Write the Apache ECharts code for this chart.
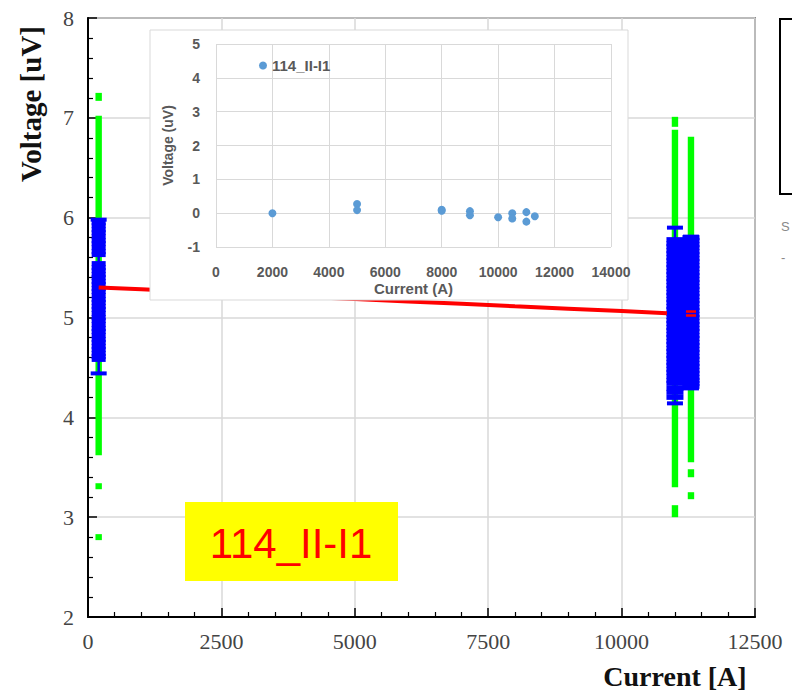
<!DOCTYPE html>
<html>
<head>
<meta charset="utf-8">
<script src="https://cdn.jsdelivr.net/npm/echarts@6/dist/echarts.min.js"></script>
<style>html,body{margin:0;padding:0;background:#fff;}#chart{width:792px;height:692px;}</style>
</head>
<body>
<div id="chart"></div>
<script>
// ---- main chart data ----
const xTicks = [0, 2500, 5000, 7500, 10000, 12500];
const yTicks = [2, 3, 4, 5, 6, 7, 8];

// green measurement ranges: [current, top voltage, bottom voltage]
const greenRanges = [
  [200, 7.25, 7.17], [200, 7.02, 3.62], [200, 3.34, 3.28], [200, 2.83, 2.77],
  [11000, 7.01, 6.91], [11000, 6.88, 3.30], [11000, 3.12, 3.00],
  [11300, 6.81, 3.55], [11300, 3.48, 3.40], [11300, 3.25, 3.18]
];

// blue points (averaged voltages) per current
const blueLeftI = 200;
const blueLeftV = [5.95,5.92,5.88,5.85,5.81,5.77,5.74,5.70,5.66,5.63,5.54,5.50,5.47,5.43,5.40,5.36,5.33,5.29,5.26,5.22,5.18,5.15,5.11,5.08,5.04,5.00,4.97,4.93,4.89,4.86,4.82,4.78,4.75,4.71,4.68,4.64,4.61,4.58];
const blueMidI = 11000;
const blueMidV = [5.78,5.74,5.71,5.67,5.64,5.60,5.57,5.53,5.50,5.46,5.43,5.39,5.36,5.32,5.29,5.25,5.22,5.18,5.15,5.11,5.08,5.04,5.01,4.97,4.94,4.90,4.87,4.83,4.80,4.76,4.73,4.69,4.66,4.62,4.59,4.55,4.52,4.48,4.45,4.41,4.37,4.34,4.29,4.25,4.20];
const blueHighI = 11300;
const blueHighV = [5.80,5.77,5.73,5.70,5.66,5.63,5.59,5.56,5.52,5.49,5.45,5.42,5.38,5.35,5.31,5.28,5.24,5.21,5.17,5.14,5.10,5.07,5.03,5.00,4.96,4.93,4.89,4.86,4.82,4.79,4.75,4.72,4.68,4.65,4.61,4.58,4.54,4.51,4.47,4.44,4.40,4.37,4.34,4.31];

// error bars: [current, low, high]
const errorBars = [[200, 4.44, 5.98], [11000, 4.14, 5.90], [11300, 4.29, 5.81]];

// red linear fit
const redI = [200, 1000, 2000, 3000, 4000, 5000, 6000, 7000, 8000, 9000, 10000, 10850];
const redV = [5.300, 5.282, 5.258, 5.233, 5.209, 5.185, 5.161, 5.137, 5.112, 5.088, 5.064, 5.043];
const redMarks = [[11300, 5.06], [11300, 5.02]];

// ---- inset data ----
const insetI = [2000, 5000, 5000, 8000, 8000, 9000, 9000, 10000, 10500, 10500, 11000, 11000, 11300];
const insetV = [0.00, 0.27, 0.09, 0.10, 0.07, 0.06, -0.06, -0.12, 0.00, -0.16, 0.03, -0.25, -0.09];
const insetXTicks = [0, 2000, 4000, 6000, 8000, 10000, 12000, 14000];
const insetYTicks = [-1, 0, 1, 2, 3, 4, 5];
const insetName = '114_II-I1';
const boxLabel = '114_II-I1';

const serif = '"Liberation Serif", "DejaVu Serif", serif';
const sans = '"Liberation Sans", Arial, sans-serif';

const chart = echarts.init(document.getElementById('chart'), null, {renderer: 'svg'});

function pts(i, vs) { return vs.map(v => [i, v]); }
const plain = v => String(v);

const option = {
  animation: false,
  backgroundColor: '#ffffff',
  grid: [
    {left: 88, top: 18, width: 667, height: 599, show: true, borderColor: '#333', borderWidth: 1.5, backgroundColor: 'transparent'},
    {left: 216, top: 44, width: 395, height: 203, show: false}
  ],
  xAxis: [
    {
      gridIndex: 0, type: 'value', min: xTicks[0], max: xTicks[xTicks.length - 1], interval: 2500,
      axisLine: {show: true, onZero: false, lineStyle: {color: '#000', width: 2}},
      axisTick: {show: true, inside: true, length: 9, lineStyle: {color: '#000', width: 1.5}},
      minorTick: {show: true, splitNumber: 5, length: 5, lineStyle: {color: '#000', width: 1.2}},
      splitLine: {show: true, lineStyle: {color: '#d9d9d9', width: 1.5}},
      axisLabel: {fontFamily: serif, fontSize: 22, color: '#444', margin: 13, formatter: plain}
    },
    {
      gridIndex: 1, type: 'value', min: insetXTicks[0], max: insetXTicks[insetXTicks.length - 1], interval: 2000, z: 60,
      axisLine: {show: false}, axisTick: {show: false},
      splitLine: {show: true, lineStyle: {color: '#d9d9d9', width: 1}},
      axisLabel: {fontFamily: sans, fontWeight: 'bold', fontSize: 14, color: '#595959', margin: 18, formatter: plain},
      name: 'Current (A)', nameLocation: 'middle', nameGap: 34,
      nameTextStyle: {fontFamily: sans, fontWeight: 'bold', fontSize: 15, color: '#595959'}
    }
  ],
  yAxis: [
    {
      gridIndex: 0, type: 'value', min: yTicks[0], max: yTicks[yTicks.length - 1], interval: 1,
      axisLine: {show: true, onZero: false, lineStyle: {color: '#000', width: 2}},
      axisTick: {show: true, inside: true, length: 9, lineStyle: {color: '#000', width: 1.5}},
      minorTick: {show: true, splitNumber: 5, length: 5, lineStyle: {color: '#000', width: 1.2}},
      splitLine: {show: true, lineStyle: {color: '#d9d9d9', width: 1.5}},
      axisLabel: {fontFamily: serif, fontSize: 22, color: '#444', margin: 14, formatter: plain}
    },
    {
      gridIndex: 1, type: 'value', min: insetYTicks[0], max: insetYTicks[insetYTicks.length - 1], interval: 1, z: 60,
      axisLine: {show: false}, axisTick: {show: false},
      splitLine: {show: true, lineStyle: {color: '#d9d9d9', width: 1}},
      axisLabel: {fontFamily: sans, fontWeight: 'bold', fontSize: 14, color: '#595959', margin: 16, formatter: plain},
      name: 'Voltage (uV)', nameLocation: 'middle', nameGap: 41, nameRotate: 90,
      nameTextStyle: {fontFamily: sans, fontWeight: 'bold', fontSize: 14, color: '#595959'}
    }
  ],
  legend: {
    show: true, data: [insetName], left: 257, top: 56, z: 80, selectedMode: false,
    icon: 'circle', itemWidth: 8, itemHeight: 8, itemGap: 4, padding: [2, 2, 2, 2],
    textStyle: {fontFamily: sans, fontWeight: 'bold', fontSize: 15, color: '#595959'}
  },
  series: [
    {
      type: 'custom', name: 'green', xAxisIndex: 0, yAxisIndex: 0, z: 2,
      data: greenRanges, encode: {x: 0, y: [1, 2]},
      renderItem: function (params, api) {
        const p1 = api.coord([api.value(0), api.value(1)]);
        const p2 = api.coord([api.value(0), api.value(2)]);
        return {type: 'rect', shape: {x: p1[0] - 3.2, y: p1[1], width: 6.4, height: p2[1] - p1[1]}, style: {fill: '#00ff00'}};
      }
    },
    {
      type: 'custom', name: 'err', xAxisIndex: 0, yAxisIndex: 0, z: 3,
      data: errorBars, encode: {x: 0, y: [1, 2]},
      renderItem: function (params, api) {
        const lo = api.coord([api.value(0), api.value(1)]);
        const hi = api.coord([api.value(0), api.value(2)]);
        const hw = 8;
        const st = {stroke: '#0000ff', lineWidth: 2.5};
        return {type: 'group', children: [
          {type: 'line', shape: {x1: lo[0], y1: lo[1], x2: hi[0], y2: hi[1]}, style: st},
          {type: 'line', shape: {x1: lo[0] - hw, y1: lo[1], x2: lo[0] + hw, y2: lo[1]}, style: {stroke: '#0000ff', lineWidth: 4}},
          {type: 'line', shape: {x1: hi[0] - hw, y1: hi[1], x2: hi[0] + hw, y2: hi[1]}, style: {stroke: '#0000ff', lineWidth: 4}}
        ]};
      }
    },
    {
      type: 'scatter', name: 'blueL', xAxisIndex: 0, yAxisIndex: 0, z: 4,
      data: pts(blueLeftI, blueLeftV), symbol: 'rect', symbolSize: [14, 5],
      itemStyle: {color: '#0000ff', opacity: 1}
    },
    {
      type: 'scatter', name: 'blueM', xAxisIndex: 0, yAxisIndex: 0, z: 4,
      data: pts(blueMidI, blueMidV), symbol: 'rect', symbolSize: [17, 5],
      itemStyle: {color: '#0000ff', opacity: 1}
    },
    {
      type: 'scatter', name: 'blueH', xAxisIndex: 0, yAxisIndex: 0, z: 4,
      data: pts(blueHighI, blueHighV), symbol: 'rect', symbolSize: [17, 5],
      itemStyle: {color: '#0000ff', opacity: 1}
    },
    {
      type: 'line', name: 'fit', xAxisIndex: 0, yAxisIndex: 0, z: 5,
      data: redI.map((x, i) => [x, redV[i]]), symbol: 'none',
      lineStyle: {color: '#ff0000', width: 4}
    },
    {
      type: 'scatter', name: 'fitmarks', xAxisIndex: 0, yAxisIndex: 0, z: 5,
      data: redMarks, symbol: 'rect', symbolSize: [10, 2.5], itemStyle: {color: '#ff0000', opacity: 1}
    },
    {
      type: 'scatter', name: insetName, xAxisIndex: 1, yAxisIndex: 1, z: 70,
      data: insetI.map((x, i) => [x, insetV[i]]), symbol: 'circle', symbolSize: 8,
      itemStyle: {color: '#5b9bd5', opacity: 1}
    }
  ],
  graphic: [
    {type: 'rect', z: 50, shape: {x: 150, y: 30, width: 478, height: 270}, style: {fill: '#ffffff', stroke: '#d9d9d9', lineWidth: 1}},
    {type: 'rect', z: 90, shape: {x: 185, y: 502, width: 213, height: 79}, style: {fill: '#ffff00'}},
    {type: 'text', z: 91, x: 291, y: 543, style: {text: boxLabel, fill: '#ff0000', font: '42px ' + sans, textAlign: 'center', textVerticalAlign: 'middle'}},
    {type: 'text', z: 20, x: 31, y: 104, rotation: Math.PI / 2, style: {text: 'Voltage [uV]', fill: '#111', font: 'bold 29px ' + serif, textAlign: 'center', textVerticalAlign: 'middle'}},
    {type: 'text', z: 20, x: 675, y: 676, style: {text: 'Current [A]', fill: '#111', font: 'bold 28px ' + serif, textAlign: 'center', textVerticalAlign: 'middle'}},
    {type: 'rect', z: 20, shape: {x: 780, y: 19, width: 40, height: 175}, style: {fill: 'none', stroke: '#000', lineWidth: 2}},
    {type: 'text', z: 20, x: 781, y: 226, style: {text: 'S', fill: '#888', font: '13px ' + sans, textVerticalAlign: 'middle'}},
    {type: 'text', z: 20, x: 781, y: 257, style: {text: '-', fill: '#888', font: '13px ' + sans, textVerticalAlign: 'middle'}}
  ]
};
chart.setOption(option);
</script>
</body>
</html>
